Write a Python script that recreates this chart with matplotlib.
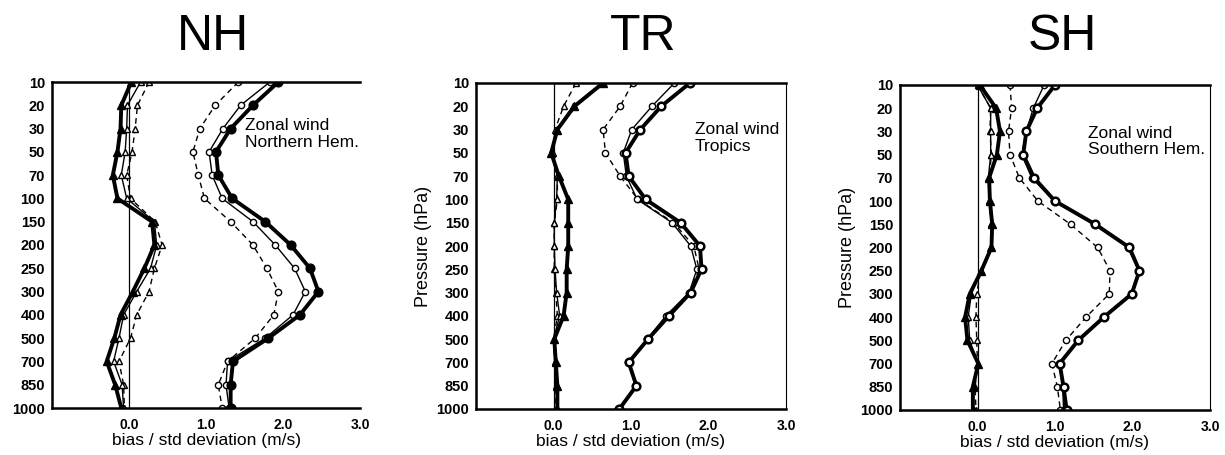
import numpy as np
import matplotlib
matplotlib.use("Agg")
import matplotlib.pyplot as plt
from matplotlib import font_manager

levels = ["10", "20", "30", "50", "70", "100", "150", "200", "250", "300",
          "400", "500", "700", "850", "1000"]
panels = ["NH", "TR", "SH"]
region_text = ["Zonal wind\nNorthern Hem.", "Zonal wind\nTropics", "Zonal wind\nSouthern Hem."]

# std deviation (circles): thick solid / thin solid / dashed
nh_std_thick = [1.94, 1.61, 1.32, 1.13, 1.16, 1.34, 1.77, 2.10, 2.35, 2.46, 2.22, 1.81, 1.35, 1.32, 1.32]
nh_std_thin = [1.83, 1.45, 1.22, 1.04, 1.08, 1.21, 1.61, 1.90, 2.15, 2.29, 2.13, 1.77, 1.28, 1.26, 1.30]
nh_std_dash = [1.42, 1.12, 0.92, 0.83, 0.90, 0.98, 1.32, 1.61, 1.79, 1.94, 1.88, 1.64, 1.28, 1.16, 1.21]
# bias (triangles)
nh_bias_thick = [0.03, -0.10, -0.11, -0.15, -0.21, -0.15, 0.30, 0.33, 0.20, 0.05, -0.11, -0.19, -0.29, -0.18, -0.10]
nh_bias_thin = [0.15, -0.02, -0.03, -0.05, -0.10, -0.03, 0.33, 0.36, 0.28, 0.10, -0.07, -0.13, -0.20, -0.09, -0.07]
nh_bias_dash = [0.26, 0.11, 0.08, 0.04, -0.03, 0.02, 0.34, 0.43, 0.33, 0.26, 0.10, 0.02, -0.13, -0.07, -0.06]

tr_std_thick = [1.76, 1.39, 1.12, 0.93, 0.97, 1.19, 1.64, 1.89, 1.91, 1.77, 1.49, 1.22, 0.97, 1.07, 0.85]
tr_std_thin = [1.56, 1.27, 1.01, 0.90, 0.94, 1.08, 1.53, 1.77, 1.85, 1.75, 1.45, 1.21, 0.96, 1.06, 0.84]
tr_std_dash = [1.02, 0.86, 0.64, 0.67, 0.86, 1.09, 1.55, 1.81, 1.88, 1.75, 1.47, 1.21, 0.97, 1.06, 0.85]
tr_bias_thick = [0.64, 0.27, 0.05, -0.03, 0.07, 0.19, 0.19, 0.19, 0.17, 0.17, 0.13, 0.01, 0.03, 0.05, 0.05]
tr_bias_thin = [0.62, 0.25, 0.04, -0.03, 0.05, 0.04, 0.01, 0.01, 0.02, 0.04, 0.08, 0.00, 0.02, 0.04, 0.04]
tr_bias_dash = [0.29, 0.13, 0.02, -0.01, 0.05, 0.05, 0.01, 0.01, 0.01, 0.03, 0.05, 0.00, 0.02, 0.03, 0.03]

sh_std_thick = [1.00, 0.77, 0.63, 0.59, 0.73, 1.00, 1.52, 1.96, 2.09, 1.99, 1.63, 1.30, 1.06, 1.11, 1.15]
sh_std_thin = [0.86, 0.72, 0.63, 0.57, 0.70, 0.99, 1.50, 1.94, 2.08, 1.98, 1.62, 1.29, 1.05, 1.10, 1.11]
sh_std_dash = [0.42, 0.44, 0.40, 0.42, 0.54, 0.78, 1.20, 1.55, 1.71, 1.70, 1.40, 1.14, 0.96, 1.03, 1.07]
sh_bias_thick = [0.03, 0.24, 0.29, 0.25, 0.15, 0.16, 0.19, 0.18, 0.05, -0.10, -0.16, -0.13, 0.01, -0.06, -0.06]
sh_bias_thin = [0.00, 0.17, 0.17, 0.17, 0.14, 0.15, 0.18, 0.17, 0.04, -0.08, -0.12, -0.10, 0.00, -0.05, -0.05]
sh_bias_dash = [0.00, 0.17, 0.16, 0.18, 0.15, 0.15, 0.18, 0.17, 0.04, -0.01, -0.02, -0.01, 0.00, -0.03, -0.02]

data = [
    (nh_std_thick, nh_std_thin, nh_std_dash, nh_bias_thick, nh_bias_thin, nh_bias_dash),
    (tr_std_thick, tr_std_thin, tr_std_dash, tr_bias_thick, tr_bias_thin, tr_bias_dash),
    (sh_std_thick, sh_std_thin, sh_std_dash, sh_bias_thick, sh_bias_thin, sh_bias_dash),
]

names = {f.name for f in font_manager.fontManager.ttflist}
narrow = "Liberation Sans Narrow" if "Liberation Sans Narrow" in names else "Liberation Sans"
plt.rcParams["font.family"] = ["Liberation Sans", "DejaVu Sans"]

fig = plt.figure(figsize=(12.25, 4.55), dpi=100)
W, H = 1225, 455
boxes = [(52, 360, 82, 408), (476, 786, 83, 409), (900, 1210, 85, 410)]
title_x = [213, 643, 1062]
text_pos = [(0.627, 0.89), (0.706, 0.88), (0.606, 0.875)]
thick_circle_face = ["k", "white", "white"]

y = np.arange(len(levels))
for i in range(3):
    x0, x1, yt, yb = boxes[i]
    ax = fig.add_axes([x0 / W, 1 - yb / H, (x1 - x0) / W, (yb - yt) / H])
    s_thick, s_thin, s_dash, b_thick, b_thin, b_dash = data[i]

    ax.axvline(0, color="k", lw=0.9, zorder=1)
    # bias
    ax.plot(b_dash, y, "k--", lw=1.0, marker="^", ms=5, mfc="white", mec="k", mew=1.0, dashes=(4, 3))
    ax.plot(b_thin, y, "k-", lw=1.0, marker="^", ms=5, mfc="white", mec="k", mew=1.0)
    ax.plot(b_thick, y, "k-", lw=2.8, marker="^", ms=6, mfc="k", mec="k")
    # std deviation
    ax.plot(s_dash, y, "k--", lw=1.0, marker="o", ms=4.5, mfc="white", mec="k", mew=1.0, dashes=(4, 3))
    ax.plot(s_thin, y, "k-", lw=1.0, marker="o", ms=4.5, mfc="white", mec="k", mew=1.0)
    ax.plot(s_thick, y, "k-", lw=2.8, marker="o", ms=5.5, mfc=thick_circle_face[i], mec="k", mew=1.8)

    ax.set_xlim(-1.0, 3.0)
    ax.set_ylim(len(levels) - 1, 0)
    ax.set_yticks(y)
    ax.set_yticklabels(levels, fontsize=10.5, fontweight="bold")
    ax.set_xticks([0, 1, 2, 3])
    ax.set_xticklabels(["0.0", "1.0", "2.0", "3.0"], fontsize=10, fontweight="bold")
    ax.tick_params(length=0, pad=5)
    ax.tick_params(axis="x", pad=7)
    for side in ["left", "top", "bottom"]:
        ax.spines[side].set_linewidth(1.8)
    ax.spines["right"].set_linewidth(0.8)
    if i == 0:
        ax.spines["right"].set_visible(False)
    else:
        ax.set_ylabel("Pressure (hPa)", fontsize=13, labelpad=3)
    ax.set_xlabel("bias / std deviation (m/s)", fontsize=12.5, labelpad=1)
    ax.text(text_pos[i][0], text_pos[i][1], region_text[i], transform=ax.transAxes,
            fontsize=12.5, va="top", ha="left", linespacing=1.15)

    fig.text(title_x[i] / W, 1 - 37 / H, panels[i], family=narrow, fontsize=36,
             ha="center", va="center")

fig.savefig("out.png", dpi=100, facecolor="white")
